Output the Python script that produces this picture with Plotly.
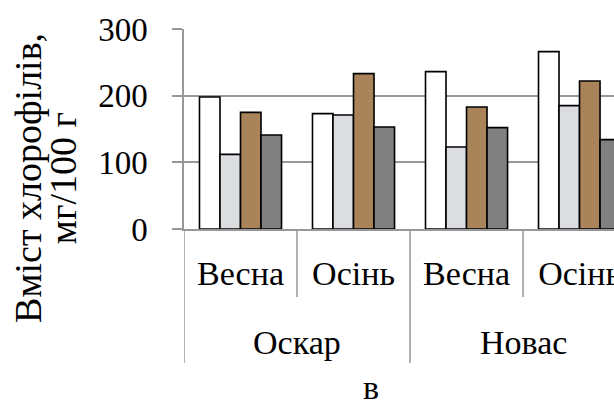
import plotly.graph_objects as go

groups = ["Оскар", "Оскар", "Новас", "Новас"]
seasons = ["Весна", "Осінь", "Весна", "Осінь"]
series_white = [198, 173, 236, 266]
series_marble = [112, 171, 123, 185]
series_wood = [175, 233, 183, 222]
series_dark = [141, 153, 152, 134]
y_ticks = [0, 100, 200, 300]

FONT = "Liberation Serif"
GRID = "#979797"

xs = list(range(len(seasons)))

fig = go.Figure()
fills = ["#ffffff", "#dcdde1", "#a9845b", "#808080"]
for vals, col in zip([series_white, series_marble, series_wood, series_dark], fills):
    fig.add_trace(go.Bar(x=xs, y=vals, marker=dict(color=col, line=dict(color="black", width=1.6)),
                         showlegend=False))

fig.update_layout(
    width=614, height=407,
    margin=dict(l=184, r=0, t=29, b=178, autoexpand=False),
    paper_bgcolor="white", plot_bgcolor="white",
    barmode="group", bargap=0.274, bargroupgap=0,
    font=dict(family=FONT, color="black"),
)
fig.update_xaxes(
    range=[-0.5, 3.305], tickmode="array", tickvals=xs, ticktext=seasons,
    ticks="", showgrid=False, showline=True, linecolor=GRID, linewidth=1.5,
    tickfont=dict(size=34, family=FONT, color="black"), ticklabelstandoff=13,
    ticklabeloverflow="allow",
    automargin=False, zeroline=False,
)
fig.update_yaxes(
    range=[0, 300], tickmode="array", tickvals=y_ticks,
    ticks="outside", ticklen=10, tickcolor=GRID, tickwidth=1.5,
    showline=True, linecolor=GRID, linewidth=1.5,
    showgrid=True, gridcolor=GRID, gridwidth=1.5, zeroline=False,
    tickfont=dict(size=33, family=FONT, color="black"), ticklabelstandoff=18,
    automargin=False,
)

# category dividers
n = len(seasons)
for i in range(n + 1):
    long = i == 0 or i == n or groups[i] != groups[i - 1]
    fig.add_shape(type="line", xref="x", yref="paper", x0=i - 0.5, x1=i - 0.5,
                  y0=0, y1=-0.67 if long else -0.34, line=dict(color=GRID, width=1.5))

# group labels
uniq = []
for g in groups:
    if g not in uniq:
        uniq.append(g)
for g in uniq:
    idx = [i for i, gg in enumerate(groups) if gg == g]
    fig.add_annotation(x=sum(idx) / len(idx), y=-0.565, xref="x", yref="paper",
                       text=g, showarrow=False, font=dict(size=34, family=FONT, color="black"),
                       xanchor="center", yanchor="middle")

fig.add_annotation(x=0.436, y=-0.89, xref="paper", yref="paper", text="в", showarrow=False,
                   font=dict(size=34, family=FONT, color="black"), xanchor="center", yanchor="bottom",
                   borderpad=0)

fig.add_annotation(x=-0.363, y=0.255, xref="paper", yref="paper", text="Вміст хлорофілів,",
                   textangle=-90, showarrow=False, font=dict(size=38, family=FONT, color="black"),
                   xanchor="center", yanchor="middle")
fig.add_annotation(x=-0.281, y=0.255, xref="paper", yref="paper", text="мг/100 г",
                   textangle=-90, showarrow=False, font=dict(size=38, family=FONT, color="black"),
                   xanchor="center", yanchor="middle")

fig.write_html("out.html")
